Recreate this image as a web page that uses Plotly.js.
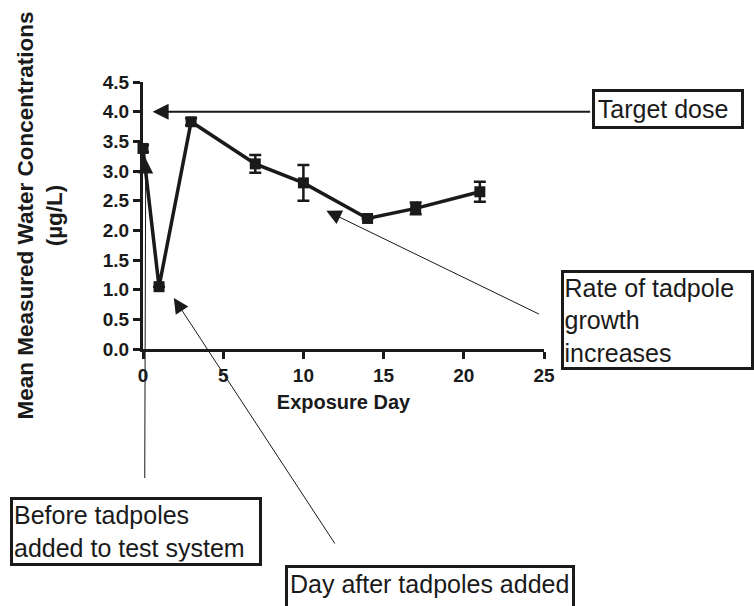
<!DOCTYPE html>
<html>
<head>
<meta charset="utf-8">
<script src="https://cdn.plot.ly/plotly-3.0.1.min.js"></script>
<style>
  html, body { margin: 0; padding: 0; background: #fff; }
  #chart { width: 754px; height: 606px; }
</style>
</head>
<body>
<div id="chart"></div>
<script>
// ---- data ----
var exposureDay = [0, 1, 3, 7, 10, 14, 17, 21];
var meanConc    = [3.38, 1.05, 3.83, 3.12, 2.80, 2.20, 2.37, 2.65];
var concError   = [0.06, 0, 0.06, 0.15, 0.30, 0, 0.10, 0.17];
var targetDose  = 4.0;

var xTickVals = [0, 5, 10, 15, 20, 25];
var yTickVals = [0, 0.5, 1, 1.5, 2, 2.5, 3, 3.5, 4, 4.5];

var xTitle = "Exposure Day";
var yTitle = "Mean Measured Water Concentrations<br>(\u00b5g/L)";

var boxTexts = {
  target: "Target dose",
  rate: "Rate of tadpole<br>growth<br>increases",
  before: "Before tadpoles<br>added to test system",
  dayAfter: "Day after tadpoles added"
};

// ---- styling ----
var ink = "#1a1a1a";
var fontFam = "Arial, 'Liberation Sans', Helvetica, sans-serif";

var trace = {
  x: exposureDay,
  y: meanConc,
  type: "scatter",
  mode: "lines+markers",
  line: { color: ink, width: 3.5 },
  marker: { symbol: "square", size: 11, color: ink },
  error_y: { type: "data", array: concError, visible: true, color: ink, thickness: 2.5, width: 6 },
  cliponaxis: false,
  showlegend: false
};

function box(text, xp, yp, w, h, pad) {
  var a = {
    text: text, xref: "paper", yref: "paper", x: xp, y: yp,
    xanchor: "left", yanchor: "top", showarrow: false,
    align: "left", valign: "top",
    font: { family: fontFam, size: 25, color: ink },
    bordercolor: ink, borderwidth: 3, borderpad: pad,
    bgcolor: "rgba(255,255,255,0)", width: w
  };
  if (h) a.height = h;
  return a;
}

function arrow(x, y, ax, ay, lw, size) {
  return {
    text: "", x: x, y: y, xref: "x", yref: "y",
    ax: ax, ay: ay, axref: "pixel", ayref: "pixel",
    showarrow: true, arrowhead: 2, arrowsize: size, arrowwidth: lw,
    arrowcolor: ink, standoff: 0, startstandoff: 0
  };
}

var tickFont = { family: fontFam, size: 19, color: ink, weight: 700 };

var layout = {
  width: 754, height: 606,
  margin: { l: 143, r: 210, t: 82, b: 257, pad: 0 },
  paper_bgcolor: "#fff", plot_bgcolor: "#fff",
  font: { family: fontFam, color: ink },
  xaxis: {
    range: [0, 25], tickvals: xTickVals,
    ticktext: xTickVals.map(function (v) { return "<b>" + v + "</b>"; }),
    showgrid: false, zeroline: false,
    showline: true, linecolor: ink, linewidth: 3,
    ticks: "outside", ticklen: 7, tickwidth: 3, tickcolor: ink,
    tickfont: tickFont,
    title: { text: "<b>" + xTitle + "</b>", font: { family: fontFam, size: 20, color: ink }, standoff: 11 }
  },
  yaxis: {
    range: [0, 4.5], tickvals: yTickVals,
    ticktext: yTickVals.map(function (v) { return "<b>" + v.toFixed(1) + "</b>"; }),
    showgrid: false, zeroline: false,
    showline: true, linecolor: ink, linewidth: 3,
    ticks: "outside", ticklen: 7, tickwidth: 3, tickcolor: ink,
    tickfont: tickFont,
    title: { text: "<b>" + yTitle + "</b>", font: { family: fontFam, size: 22.5, color: ink }, standoff: 34 }
  },
  annotations: [
    box(boxTexts.target, (592 - 143) / 401, (349 - 89) / 267, 140, null, 2.75),
    box(boxTexts.rate, (561 - 143) / 401, (349 - 270) / 267, 186, null, 0.5),
    box(boxTexts.before, (10 - 143) / 401, (349 - 497) / 267, 244, null, 1),
    box(boxTexts.dayAfter, (285 - 143) / 401, (349 - 565) / 267, 280, 50, 2),
    arrow(0.6, targetDose, 439, 0, 2, 1.6),
    arrow(11.43, 2.33, 214, 104, 1, 3),
    arrow(0.17, 3.21, -1, 321, 1, 3),
    arrow(1.92, 0.86, 162, 247, 1, 3)
  ]
};

Plotly.newPlot("chart", [trace], layout, { displayModeBar: false, staticPlot: true });
</script>
</body>
</html>
